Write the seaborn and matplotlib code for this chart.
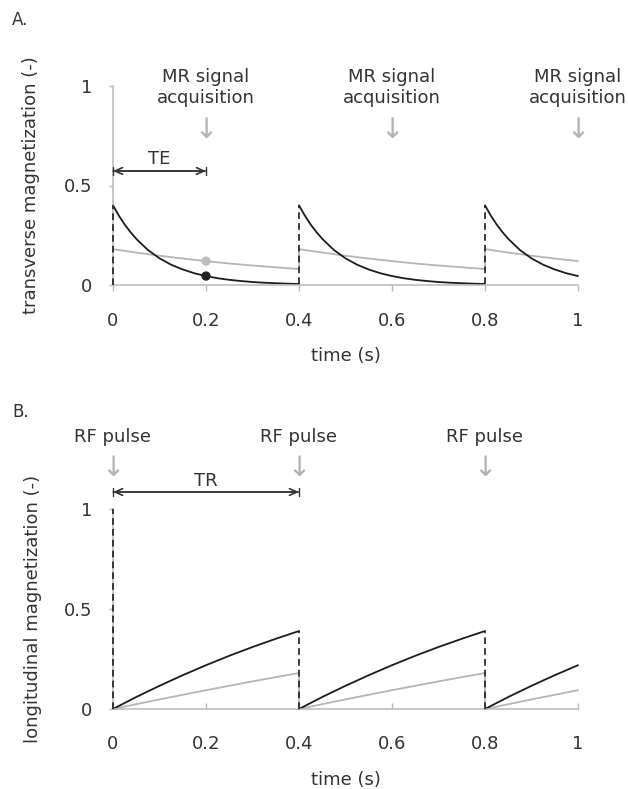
import numpy as np
import pandas as pd
import matplotlib
matplotlib.use('Agg')
import matplotlib.pyplot as plt
import seaborn as sns

# ---- data ----
# time inside one repetition (s)
t_fast = [0, 0.0125, 0.025, 0.0375, 0.05, 0.075, 0.1, 0.125, 0.15, 0.175, 0.2,
          0.225, 0.25, 0.275, 0.3, 0.325, 0.35, 0.375, 0.4]
# transverse magnetization, short T2 tissue (black)
mxy_fast = [0.400, 0.349, 0.304, 0.266, 0.232, 0.176, 0.134, 0.102, 0.078, 0.059, 0.045,
            0.034, 0.026, 0.020, 0.015, 0.0115, 0.009, 0.0067, 0.005]

t_slow = [0, 0.05, 0.1, 0.15, 0.2, 0.25, 0.3, 0.35, 0.4]
# transverse magnetization, long T2 tissue (gray)
mxy_slow = [0.180, 0.163, 0.147, 0.133, 0.120, 0.108, 0.098, 0.089, 0.080]
# longitudinal magnetization, short T1 (black) and long T1 (gray)
mz_fast = [0, 0.060, 0.116, 0.169, 0.219, 0.266, 0.310, 0.351, 0.390]
mz_slow = [0, 0.024, 0.048, 0.071, 0.094, 0.116, 0.138, 0.159, 0.180]

pulse_times = [0, 0.4, 0.8]
acq_times = [0.2, 0.6, 1.0]
TR = 0.4
TE = 0.2
t_end = 1.0
mz_start = 1.0

x_ticks = [0, 0.2, 0.4, 0.6, 0.8, 1]
x_ticklabels = ['0', '0.2', '0.4', '0.6', '0.8', '1']
y_ticks = [0, 0.5, 1]
y_ticklabels = ['0', '0.5', '1']

# ---- styling ----
sns.set_theme(style='white')
plt.rcParams['font.family'] = ['DejaVu Sans']

TXT = '#333333'
AX = '#b8b8b8'
ARR = '#b3b3b3'
BLK = '#1c1c1c'
GRY = '#b5b5b5'


def build_long(t_rel, vals, name):
    rows = []
    for k, p in enumerate(pulse_times):
        for tr, v in zip(t_rel, vals):
            if p + tr <= t_end + 1e-9:
                rows.append({'time': p + tr, 'value': v, 'series': name, 'seg': k})
    return pd.DataFrame(rows)


fig = plt.figure(figsize=(6.28, 7.89), dpi=100)
axA = fig.add_axes([113 / 628, 504 / 789, 465 / 628, 199 / 789])
axB = fig.add_axes([113 / 628, 80 / 789, 465 / 628, 200 / 789])


def style_axis(ax, xdir):
    ax.set_xlim(0, 1)
    ax.set_ylim(0, 1)
    for s in ['top', 'right']:
        ax.spines[s].set_visible(False)
    for s in ['left', 'bottom']:
        ax.spines[s].set_color(AX)
        ax.spines[s].set_linewidth(1.1)
    ax.set_xticks(x_ticks)
    ax.set_xticklabels(x_ticklabels)
    ax.set_yticks(y_ticks)
    ax.set_yticklabels(y_ticklabels)
    ax.tick_params(axis='x', direction=xdir, length=4.5, width=1, color=AX,
                   labelsize=13, labelcolor=TXT,
                   pad=15 if xdir == 'out' else 19, bottom=True)
    ax.tick_params(axis='y', direction='out', length=3, width=1, color=AX,
                   labelsize=13, labelcolor=TXT, pad=12, left=True)
    ax.set_xlabel('time (s)', fontsize=13, color=TXT)
    ax.xaxis.set_label_coords(0.5, -0.31)
    ax.grid(False)


# ---- panel A: transverse magnetization ----
dfA = pd.concat([build_long(t_slow, mxy_slow, 'long T2'),
                 build_long(t_fast, mxy_fast, 'short T2')])
sns.lineplot(data=dfA, x='time', y='value', hue='series', units='seg',
             estimator=None, palette={'long T2': GRY, 'short T2': BLK},
             linewidth=1.3, legend=False, ax=axA, clip_on=False)
# jumps at the RF pulses
for p in pulse_times[1:]:
    axA.plot([p, p], [mxy_slow[-1], mxy_slow[0]], color=GRY, lw=1.3)
for p in pulse_times:
    low = 0 if p == 0 else mxy_fast[-1]
    axA.plot([p, p], [low, mxy_fast[0]], color=BLK, lw=1.2,
             dashes=(4, 2.5), clip_on=False, zorder=3)
# signal sampled at TE
iTE_f = t_fast.index(TE)
iTE_s = t_slow.index(TE)
sns.scatterplot(x=[TE], y=[mxy_slow[iTE_s]], color='#bdbdbd', s=45,
                edgecolor='none', ax=axA, zorder=5)
sns.scatterplot(x=[TE], y=[mxy_fast[iTE_f]], color='#222222', s=45,
                edgecolor='none', ax=axA, zorder=5)

style_axis(axA, 'out')
axA.set_ylabel('transverse magnetization (-)', fontsize=13, color=TXT)
axA.yaxis.set_label_coords(-0.157, 0.5)

for a in acq_times:
    axA.text(a, 1.045, 'MR signal', ha='center', va='center', fontsize=13,
             color=TXT, clip_on=False)
    axA.text(a, 0.94, 'acquisition', ha='center', va='center', fontsize=13,
             color=TXT, clip_on=False)
    axA.text(a, 0.78, '\u2193', ha='center', va='center', fontsize=20,
             color=ARR, clip_on=False)

yTE = 0.573
axA.annotate('', xy=(0, yTE), xytext=(TE, yTE),
             arrowprops=dict(arrowstyle='<->,head_length=0.45,head_width=0.2',
                             color='#333333', lw=1.2, shrinkA=0, shrinkB=0))
axA.annotate('', xy=(0, yTE), xytext=(TE, yTE),
             arrowprops=dict(arrowstyle='|-|,widthA=0.25,widthB=0.25',
                             color='#333333', lw=1.0, shrinkA=0, shrinkB=0))
axA.text(TE / 2, 0.635, 'TE', ha='center', va='center', fontsize=13, color=TXT)

# ---- panel B: longitudinal magnetization ----
dfB = pd.concat([build_long(t_slow, mz_slow, 'long T1'),
                 build_long(t_slow, mz_fast, 'short T1')])
sns.lineplot(data=dfB, x='time', y='value', hue='series', units='seg',
             estimator=None, palette={'long T1': GRY, 'short T1': BLK},
             linewidth=1.3, legend=False, ax=axB, clip_on=False)
for p in pulse_times[1:]:
    axB.plot([p, p], [mz_slow[0], mz_slow[-1]], color=GRY, lw=1.3)
for p in pulse_times:
    top = mz_start if p == 0 else mz_fast[-1]
    axB.plot([p, p], [mz_fast[0], top], color=BLK, lw=1.2,
             dashes=(4, 2.5), clip_on=False, zorder=3)

style_axis(axB, 'in')
axB.set_ylabel('longitudinal magnetization (-)', fontsize=13, color=TXT)
axB.yaxis.set_label_coords(-0.152, 0.5)

for p in pulse_times:
    axB.text(p, 1.36, 'RF pulse', ha='center', va='center', fontsize=13,
             color=TXT, clip_on=False)
    axB.text(p, 1.205, '\u2193', ha='center', va='center', fontsize=20,
             color=ARR, clip_on=False)

yTR = 1.085
axB.annotate('', xy=(0, yTR), xytext=(TR, yTR),
             arrowprops=dict(arrowstyle='<->,head_length=0.45,head_width=0.2',
                             color='#333333', lw=1.2, shrinkA=0, shrinkB=0),
             annotation_clip=False)
axB.annotate('', xy=(0, yTR), xytext=(TR, yTR),
             arrowprops=dict(arrowstyle='|-|,widthA=0.25,widthB=0.25',
                             color='#333333', lw=1.0, shrinkA=0, shrinkB=0),
             annotation_clip=False)
axB.text(TR / 2, 1.14, 'TR', ha='center', va='center', fontsize=13,
         color=TXT, clip_on=False)

# panel letters
fig.text(12 / 628, 1 - 20 / 789, 'A.', fontsize=12, color=TXT, va='center')
fig.text(12 / 628, 1 - 412 / 789, 'B.', fontsize=12, color=TXT, va='center')

fig.savefig('out.png', dpi=100)
